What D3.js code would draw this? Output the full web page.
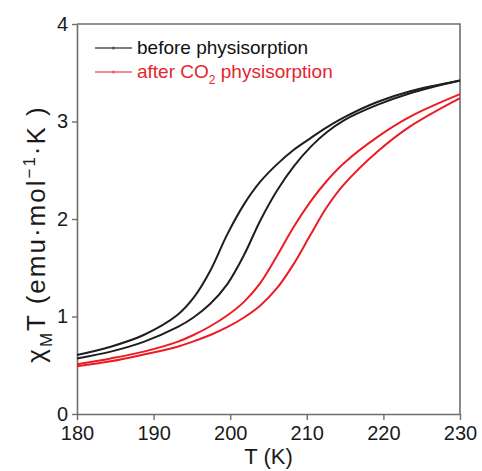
<!DOCTYPE html>
<html>
<head>
<meta charset="utf-8">
<script src="https://cdn.jsdelivr.net/npm/d3@7"></script>
<style>
  body { margin: 0; background: #fff; }
  svg text { font-family: "Liberation Sans", Arial, sans-serif; }
</style>
</head>
<body>
<div id="chart"></div>
<script>
// temperatures (K) at which the curves were read
const tempK = [180, 184.4, 188.7, 193.1, 195.2, 197.4, 199.6, 201.8, 203.9, 206.1, 208.3, 210.5, 212.6, 214.8, 219.2, 223.5, 230];

// chi_M T values, two branches per sample (hysteresis loop)
const beforeCool = [0.605, 0.69, 0.81, 1.015, 1.19, 1.47, 1.84, 2.15, 2.38, 2.56, 2.71, 2.83, 2.94, 3.04, 3.20, 3.31, 3.42];
const beforeWarm = [0.57, 0.64, 0.74, 0.89, 0.99, 1.13, 1.33, 1.63, 1.98, 2.29, 2.54, 2.74, 2.89, 3.01, 3.17, 3.29, 3.42];
const afterCool  = [0.51, 0.57, 0.64, 0.74, 0.81, 0.90, 1.01, 1.15, 1.34, 1.62, 1.92, 2.18, 2.39, 2.57, 2.84, 3.05, 3.28];
const afterWarm  = [0.49, 0.54, 0.61, 0.69, 0.745, 0.81, 0.89, 0.99, 1.11, 1.29, 1.54, 1.84, 2.12, 2.35, 2.69, 2.95, 3.24];

const xTicks = [180, 190, 200, 210, 220, 230];
const yTicks = [0, 1, 2, 3, 4];
const legendLabels = ["before physisorption", "after CO2 physisorption"];

const width = 482, height = 471;
const margin = {left: 77, right: 22, top: 24, bottom: 57};

const svg = d3.select("#chart")
  .append("svg")
  .attr("width", width)
  .attr("height", height);

let x = d3.scaleLinear()
  .domain([180, 230])
  .range([margin.left, width - margin.right]);

let y = d3.scaleLinear()
  .domain([0, 4])
  .range([height - margin.bottom, margin.top]);

const axisColor = "#6e6e6e";

//axes
let gx = svg.append("g")
  .attr("transform", "translate(0," + y(0) + ")")
  .call(d3.axisBottom(x).tickValues(xTicks).tickFormat(d3.format("d")).tickSize(6).tickSizeOuter(0).tickPadding(6));

let gy = svg.append("g")
  .attr("transform", "translate(" + x(180) + ",0)")
  .call(d3.axisLeft(y).tickValues(yTicks).tickFormat(d3.format("d")).tickSize(5).tickSizeOuter(0).tickPadding(4));

[gx, gy].forEach(function(g) {
  g.select(".domain").attr("stroke", axisColor).attr("stroke-width", 1.6);
  g.selectAll(".tick line").attr("stroke", axisColor).attr("stroke-width", 1.4);
  g.selectAll(".tick text")
    .attr("fill", "#1a1a1a")
    .attr("font-size", "20px")
    .attr("font-family", "Liberation Sans, Arial, sans-serif");
});

//top and right frame
svg.append("path")
  .attr("d", "M" + x(180) + "," + y(4) + "H" + x(230) + "V" + y(0))
  .attr("fill", "none")
  .attr("stroke", axisColor)
  .attr("stroke-width", 1.6);

//curves
let line = d3.line()
  .x(function(d) { return x(d[0]); })
  .y(function(d) { return y(d[1]); })
  .curve(d3.curveCatmullRom.alpha(0.5));

let series = [
  {vals: beforeCool, color: "#1e1e1e"},
  {vals: beforeWarm, color: "#1e1e1e"},
  {vals: afterCool, color: "#ec1c24"},
  {vals: afterWarm, color: "#ec1c24"}
];

svg.selectAll(".curve")
  .data(series)
  .enter()
  .append("path")
  .attr("class", "curve")
  .attr("d", function(d) { return line(d3.zip(tempK, d.vals)); })
  .attr("fill", "none")
  .attr("stroke", function(d) { return d.color; })
  .attr("stroke-width", 2);

//legend
let legColors = ["#555", "#f0656b"];
let textColors = ["#111", "#e3262d"];
let leg = svg.append("g");
legendLabels.forEach(function(lab, i) {
  let ly = 48 + i * 24;
  leg.append("line")
    .attr("x1", 95).attr("x2", 132)
    .attr("y1", ly).attr("y2", ly)
    .attr("stroke", legColors[i]).attr("stroke-width", 1.6);
  leg.append("circle")
    .attr("cx", 113.5).attr("cy", ly).attr("r", 1.6)
    .attr("fill", legColors[i]);
  let t = leg.append("text")
    .attr("x", 137).attr("y", ly + 6)
    .attr("font-size", "19px")
    .attr("fill", textColors[i]);
  if (i === 0) {
    t.text(lab);
  } else {
    t.append("tspan").text("after CO");
    t.append("tspan").attr("dy", 6).attr("font-size", "12px").text("2");
    t.append("tspan").attr("dy", -6).text(" physisorption");
  }
});

//axis titles
svg.append("text")
  .attr("x", (x(180) + x(230)) / 2)
  .attr("y", 464)
  .attr("text-anchor", "middle")
  .attr("font-size", "22px")
  .attr("fill", "#1a1a1a")
  .text("T (K)");

let yl = svg.append("text")
  .attr("transform", "translate(45," + 234 + ") rotate(-90)")
  .attr("text-anchor", "middle")
  .attr("font-size", "26px")
  .attr("letter-spacing", "2px")
  .attr("fill", "#1a1a1a");
yl.append("tspan").text("\u03c7");
yl.append("tspan").attr("dy", 7).attr("font-size", "17px").text("M");
yl.append("tspan").attr("dy", -7).text("T (emu\u00b7mol");
yl.append("tspan").attr("dy", -10).attr("font-size", "17px").text("\u22121");
yl.append("tspan").attr("dy", 10).text("\u00b7K )");
</script>
</body>
</html>
